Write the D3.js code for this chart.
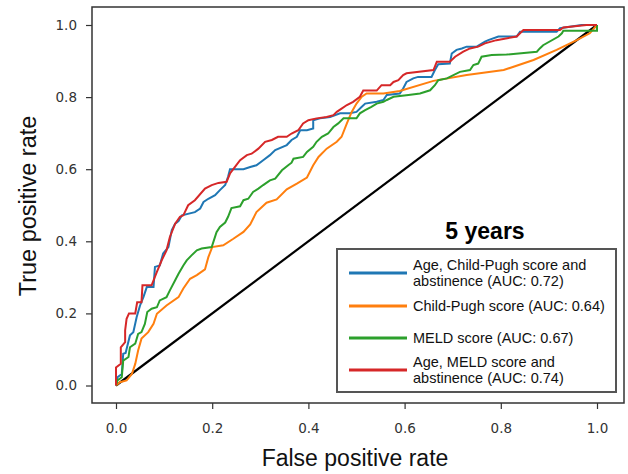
<!DOCTYPE html>
<html>
<head>
<meta charset="utf-8">
<script src="https://cdn.jsdelivr.net/npm/d3@7"></script>
<style>
  body { margin: 0; background: #fff; }
</style>
</head>
<body>
<div id="chart-container"></div>
<script>
// tick values
const xTicks = [0, 0.2, 0.4, 0.6, 0.8, 1.0];
const yTicks = [0, 0.2, 0.4, 0.6, 0.8, 1.0];

const chartTitle = "5 years";
const legendLabels = [
  ["Age, Child-Pugh score and", "abstinence (AUC: 0.72)"],
  ["Child-Pugh score (AUC: 0.64)"],
  ["MELD score (AUC: 0.67)"],
  ["Age, MELD score and", "abstinence (AUC: 0.74)"]
];

// ROC points: [fpr, tpr]
const rocAgeChildPugh = [[0,0],[0.003,0.023],[0.012,0.032],[0.015,0.088],[0.02,0.09],[0.029,0.139],[0.036,0.148],[0.043,0.19],[0.05,0.222],[0.057,0.245],[0.064,0.273],[0.078,0.273],[0.081,0.329],[0.091,0.333],[0.098,0.366],[0.109,0.384],[0.116,0.431],[0.123,0.449],[0.13,0.456],[0.137,0.472],[0.164,0.481],[0.175,0.491],[0.182,0.509],[0.192,0.518],[0.206,0.528],[0.216,0.542],[0.227,0.556],[0.233,0.579],[0.237,0.6],[0.265,0.6],[0.279,0.606],[0.292,0.611],[0.306,0.625],[0.32,0.639],[0.331,0.653],[0.355,0.667],[0.365,0.681],[0.376,0.69],[0.383,0.708],[0.397,0.708],[0.41,0.713],[0.41,0.736],[0.424,0.741],[0.445,0.745],[0.466,0.755],[0.486,0.755],[0.5,0.759],[0.511,0.773],[0.518,0.782],[0.542,0.787],[0.556,0.792],[0.563,0.806],[0.59,0.81],[0.597,0.824],[0.604,0.842],[0.618,0.852],[0.628,0.856],[0.656,0.856],[0.663,0.875],[0.67,0.891],[0.694,0.893],[0.698,0.921],[0.708,0.931],[0.719,0.935],[0.729,0.94],[0.75,0.94],[0.767,0.954],[0.774,0.958],[0.795,0.968],[0.833,0.968],[0.84,0.981],[0.916,0.981],[0.923,0.991],[0.968,1.0],[1,1]];

const rocChildPugh = [[0,0],[0.008,0.009],[0.022,0.014],[0.033,0.032],[0.04,0.06],[0.046,0.097],[0.053,0.13],[0.067,0.148],[0.078,0.171],[0.085,0.199],[0.105,0.222],[0.13,0.245],[0.14,0.269],[0.154,0.296],[0.168,0.306],[0.185,0.322],[0.192,0.356],[0.2,0.384],[0.223,0.389],[0.244,0.407],[0.265,0.426],[0.279,0.447],[0.292,0.481],[0.313,0.507],[0.334,0.516],[0.355,0.544],[0.376,0.56],[0.397,0.577],[0.41,0.611],[0.421,0.634],[0.438,0.657],[0.459,0.676],[0.469,0.69],[0.48,0.727],[0.49,0.759],[0.5,0.782],[0.511,0.801],[0.521,0.81],[0.556,0.81],[0.59,0.817],[0.66,0.845],[0.729,0.861],[0.806,0.875],[0.868,0.903],[0.916,0.931],[0.958,0.958],[0.985,0.977],[1,1]];

const rocMeld = [[0,0],[0.003,0.014],[0.012,0.023],[0.015,0.069],[0.026,0.079],[0.029,0.106],[0.04,0.116],[0.046,0.143],[0.053,0.148],[0.06,0.171],[0.065,0.204],[0.074,0.213],[0.085,0.217],[0.091,0.236],[0.105,0.245],[0.112,0.264],[0.123,0.292],[0.13,0.31],[0.14,0.333],[0.147,0.347],[0.157,0.361],[0.168,0.375],[0.178,0.38],[0.199,0.384],[0.209,0.425],[0.216,0.44],[0.227,0.452],[0.233,0.468],[0.24,0.492],[0.258,0.497],[0.265,0.514],[0.275,0.518],[0.285,0.537],[0.296,0.546],[0.306,0.556],[0.32,0.569],[0.331,0.574],[0.345,0.597],[0.358,0.611],[0.365,0.618],[0.369,0.629],[0.389,0.634],[0.397,0.648],[0.41,0.662],[0.417,0.676],[0.428,0.69],[0.441,0.699],[0.452,0.717],[0.462,0.727],[0.473,0.741],[0.5,0.741],[0.507,0.755],[0.518,0.764],[0.531,0.773],[0.542,0.782],[0.556,0.787],[0.563,0.792],[0.577,0.801],[0.608,0.806],[0.632,0.81],[0.653,0.819],[0.663,0.833],[0.67,0.847],[0.688,0.852],[0.715,0.87],[0.736,0.875],[0.743,0.889],[0.753,0.893],[0.76,0.912],[0.781,0.917],[0.812,0.918],[0.875,0.926],[0.881,0.935],[0.888,0.944],[0.92,0.968],[0.927,0.977],[0.93,0.984],[1,0.984],[1,1]];

const rocAgeMeld = [[0,0],[0,0.05],[0.01,0.06],[0.01,0.106],[0.019,0.12],[0.019,0.153],[0.022,0.185],[0.027,0.2],[0.04,0.2],[0.044,0.231],[0.053,0.231],[0.055,0.278],[0.074,0.278],[0.085,0.315],[0.095,0.347],[0.105,0.375],[0.112,0.412],[0.123,0.449],[0.133,0.468],[0.14,0.472],[0.15,0.5],[0.164,0.514],[0.185,0.546],[0.199,0.556],[0.213,0.562],[0.23,0.565],[0.237,0.588],[0.247,0.606],[0.258,0.625],[0.272,0.639],[0.282,0.643],[0.296,0.657],[0.31,0.676],[0.324,0.681],[0.337,0.69],[0.355,0.69],[0.365,0.699],[0.379,0.708],[0.389,0.727],[0.4,0.736],[0.417,0.741],[0.438,0.745],[0.452,0.75],[0.459,0.759],[0.469,0.768],[0.48,0.778],[0.493,0.787],[0.507,0.801],[0.514,0.818],[0.542,0.818],[0.552,0.833],[0.57,0.833],[0.577,0.842],[0.587,0.847],[0.597,0.861],[0.604,0.866],[0.66,0.875],[0.667,0.898],[0.694,0.898],[0.705,0.912],[0.722,0.926],[0.736,0.935],[0.753,0.94],[0.767,0.949],[0.791,0.958],[0.833,0.968],[0.847,0.986],[0.923,0.986],[0.93,0.993],[0.978,1.0],[1,1]];

const chanceLine = [[0,0],[1,1]];

const curves = [rocAgeChildPugh, rocChildPugh, rocMeld, rocAgeMeld];
const colors = ["#1f77b4", "#ff7f0e", "#2ca02c", "#d62728"];

const width = 628, height = 474;
const frame = { left: 92, right: 624, top: 7, bottom: 403 };

const svg = d3.select("#chart-container")
  .append("svg")
    .attr("width", width)
    .attr("height", height)
    .style("background", "#fff");

const x = d3.scaleLinear().domain([0, 1]).range([116, 597]);
const y = d3.scaleLinear().domain([0, 1]).range([385.5, 25]);

// x axis
const xAxis = svg.append("g")
  .attr("transform", `translate(0,${frame.bottom})`)
  .call(d3.axisBottom(x)
    .tickValues(xTicks)
    .tickFormat(d3.format(".1f"))
    .tickSize(6)
    .tickPadding(14));
xAxis.select(".domain").remove();

// y axis
const yAxis = svg.append("g")
  .attr("transform", `translate(${frame.left},0)`)
  .call(d3.axisLeft(y)
    .tickValues(yTicks)
    .tickFormat(d3.format(".1f"))
    .tickSize(6)
    .tickPadding(9));
yAxis.select(".domain").remove();

svg.selectAll(".tick line").attr("stroke", "#333").attr("stroke-width", 1.2);
svg.selectAll(".tick text")
  .attr("fill", "#333")
  .style("font-family", "'DejaVu Sans', sans-serif")
  .style("font-size", "13.5px");

// chance line
const line = d3.line()
  .x(d => x(d[0]))
  .y(d => y(d[1]));

svg.append("path")
  .datum(chanceLine)
  .attr("fill", "none")
  .attr("stroke", "#000")
  .attr("stroke-width", 2.2)
  .attr("d", line);

// roc curves
svg.selectAll(".roc")
  .data(curves)
  .join("path")
  .attr("class", "roc")
  .attr("fill", "none")
  .attr("stroke", (d, i) => colors[i])
  .attr("stroke-width", 2)
  .attr("stroke-linejoin", "miter")
  .attr("d", line);

// frame
svg.append("rect")
  .attr("x", frame.left)
  .attr("y", frame.top)
  .attr("width", frame.right - frame.left)
  .attr("height", frame.bottom - frame.top)
  .attr("fill", "none")
  .attr("stroke", "#333")
  .attr("stroke-width", 1.5);

// title inside plot
svg.append("text")
  .attr("x", 485)
  .attr("y", 239)
  .attr("text-anchor", "middle")
  .style("font-family", "'Liberation Sans', Arial, sans-serif")
  .style("font-weight", "bold")
  .style("font-size", "23px")
  .attr("fill", "#000")
  .text(chartTitle);

// legend
const legend = svg.append("g");
legend.append("rect")
  .attr("x", 337)
  .attr("y", 249)
  .attr("width", 279)
  .attr("height", 143)
  .attr("fill", "#fff")
  .attr("stroke", "#555")
  .attr("stroke-width", 2);

const legendY = [273, 306, 338, 370];
legendLabels.forEach((lines, i) => {
  legend.append("line")
    .attr("x1", 349)
    .attr("x2", 407)
    .attr("y1", legendY[i])
    .attr("y2", legendY[i])
    .attr("stroke", colors[i])
    .attr("stroke-width", 3);
  const t = legend.append("text")
    .attr("x", 413)
    .style("font-family", "'Liberation Sans', Arial, sans-serif")
    .style("font-size", "14.5px")
    .attr("fill", "#111");
  const top = legendY[i] - (lines.length - 1) * 8.3 + 5;
  lines.forEach((s, k) => {
    t.append("tspan")
      .attr("x", 413)
      .attr("y", top + k * 16.6)
      .text(s);
  });
});

// axis labels
svg.append("text")
  .attr("x", 355)
  .attr("y", 466)
  .attr("text-anchor", "middle")
  .style("font-family", "'Liberation Sans', Arial, sans-serif")
  .style("font-size", "23px")
  .attr("fill", "#111")
  .text("False positive rate");

svg.append("text")
  .attr("transform", "rotate(-90)")
  .attr("x", -206)
  .attr("y", 36)
  .attr("text-anchor", "middle")
  .style("font-family", "'Liberation Sans', Arial, sans-serif")
  .style("font-size", "23.5px")
  .attr("fill", "#111")
  .text("True positive rate");
</script>
</body>
</html>
